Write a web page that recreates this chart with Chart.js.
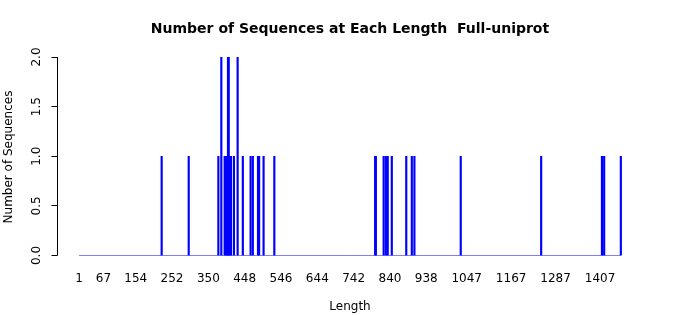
<!DOCTYPE html>
<html>
<head>
<meta charset="utf-8">
<script src="https://cdn.jsdelivr.net/npm/chart.js@4.4.1/dist/chart.umd.min.js"></script>
<style>
  html, body { margin: 0; padding: 0; background: #fff; }
  #wrap { width: 700px; height: 315px; }
</style>
</head>
<body>
<div id="wrap"><canvas id="lenchart" width="700" height="315"></canvas></div>
<script>
// sequence lengths that occur, and how many sequences have that length
var seqLengths = [224, 297, 377, 385, 394, 397, 400, 403, 405, 408, 411, 419, 429, 443, 464, 470, 484, 487, 499, 528,
                  800, 802, 823, 829, 834, 845, 884, 899, 906, 1031, 1248, 1412, 1418, 1463];
var seqCounts  = [1, 1, 1, 2, 1, 1, 1, 2, 2, 1, 1, 1, 2, 1, 1, 1, 1, 1, 1, 1,
                  1, 1, 1, 1, 1, 1, 1, 1, 1, 1, 1, 1, 1, 1];
var lengthRange = [1, 1463];
var xTickLabels = [1, 67, 154, 252, 350, 448, 546, 644, 742, 840, 938, 1047, 1167, 1287, 1407];
var yTickLabels = [0, 0.5, 1, 1.5, 2];

var titleText = 'Number of Sequences at Each Length  Full-uniprot';
var xTitle = 'Length';
var yTitle = 'Number of Sequences';

function initLengthChart() {
    var canvas = document.getElementById('lenchart');
    var ctx = canvas.getContext('2d');

    var barData = seqLengths.map(function (len, i) {
        return { x: len, y: seqCounts[i] };
    });
    var baseData = lengthRange.map(function (len) {
        return { x: len, y: 0 };
    });

    // axes and titles drawn R-style from the chart's scales
    var rAxes = {
        id: 'rAxes',
        afterDraw: function (chart) {
            var c = chart.ctx;
            var xs = chart.scales.x;
            var ys = chart.scales.y;
            var font = '12px "DejaVu Sans", sans-serif';
            c.save();
            c.fillStyle = '#000';

            // title
            c.font = 'bold 14px "DejaVu Sans", sans-serif';
            c.textAlign = 'center';
            c.textBaseline = 'middle';
            c.fillText(titleText, 350, 29);

            // x tick labels (no axis line)
            c.font = font;
            xTickLabels.forEach(function (v) {
                c.fillText(String(v), xs.getPixelForValue(v), 279);
            });
            c.fillText(xTitle, 350, 307);

            // y axis line + ticks
            var axX = 57.5;
            c.strokeStyle = '#000';
            c.lineWidth = 1;
            c.beginPath();
            c.moveTo(axX, ys.getPixelForValue(0));
            c.lineTo(axX, ys.getPixelForValue(2));
            yTickLabels.forEach(function (v) {
                var py = Math.floor(ys.getPixelForValue(v)) + 0.5;
                c.moveTo(axX, py);
                c.lineTo(axX - 6, py);
            });
            c.stroke();

            yTickLabels.forEach(function (v) {
                c.save();
                c.translate(37, ys.getPixelForValue(v));
                c.rotate(-Math.PI / 2);
                c.fillText(v.toFixed(1), 0, 0);
                c.restore();
            });

            c.save();
            c.translate(9, 157);
            c.rotate(-Math.PI / 2);
            c.fillText(yTitle, 0, 0);
            c.restore();

            c.restore();
        }
    };

    var config = {
        type: 'bar',
        data: {
            datasets: [{
                label: 'count',
                data: barData,
                backgroundColor: 'rgb(0, 0, 255)',
                borderWidth: 0,
                barThickness: 1.5,
                order: 1
            }, {
                type: 'line',
                label: 'zero',
                data: baseData,
                borderColor: 'rgb(0, 0, 255)',
                borderWidth: 1,
                pointRadius: 0,
                order: 2
            }]
        },
        options: {
            responsive: false,
            animation: false,
            layout: { padding: { left: 58, right: 60, top: 57, bottom: 59.5 } },
            plugins: {
                legend: { display: false },
                tooltip: { enabled: false },
                title: { display: false }
            },
            scales: {
                x: { type: 'linear', offset: false, min: -55.7, max: 1514.7, display: false },
                y: { min: 0, max: 2, display: false }
            }
        },
        plugins: [rAxes]
    };

    new Chart(ctx, config);
}

document.addEventListener('DOMContentLoaded', initLengthChart);
</script>
</body>
</html>
